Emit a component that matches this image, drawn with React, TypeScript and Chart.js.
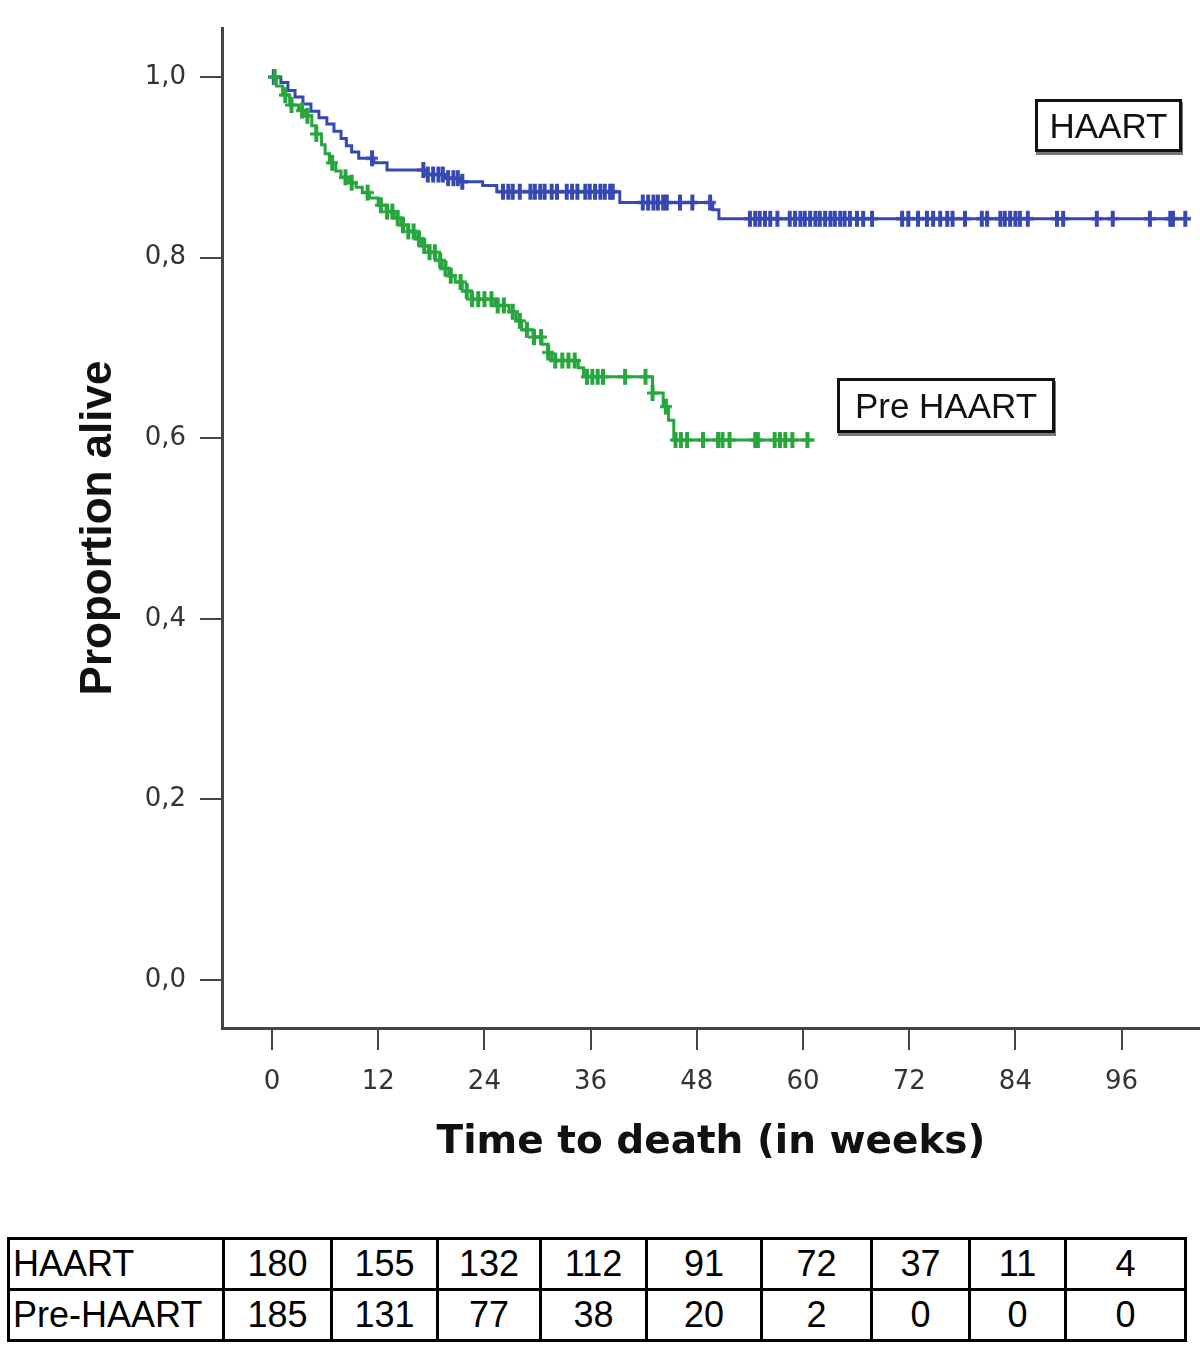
import React, { useEffect, useRef } from 'react';
import { Chart, registerables } from 'chart.js';

Chart.register(...registerables);

// ---------- data ----------
const xTickValues = [0, 12, 24, 36, 48, 60, 72, 84, 96];
const yTickValues = [0, 0.2, 0.4, 0.6, 0.8, 1.0];

// Kaplan-Meier step points (time in weeks, proportion alive after the drop)
const haartStepTimes = [0, 1.0, 1.8, 2.6, 3.5, 4.4, 5.3, 6.2, 7.0, 7.8, 8.4, 9.0, 9.8, 11.5, 13.0, 17.5, 19.5, 21.5, 23.8, 25.4, 39.3, 49.8, 50.5, 103.8];
const haartStepSurv = [1.0, 0.994, 0.985, 0.978, 0.97, 0.962, 0.955, 0.948, 0.94, 0.932, 0.924, 0.917, 0.91, 0.905, 0.897, 0.892, 0.888, 0.884, 0.88, 0.873, 0.861, 0.853, 0.843, 0.843];
const haartCensorTimes = [0.2, 11.3, 17.1, 17.6, 18.2, 18.8, 19.3, 19.9, 20.5, 21.0, 21.5, 26.1, 26.7, 27.2, 28.0, 29.2, 29.7, 30.3, 30.8, 31.6, 32.2, 33.3, 33.9, 34.5, 35.4, 35.9, 36.5, 37.1, 37.6, 38.2, 38.5, 41.9, 42.5, 43.1, 43.6, 44.2, 44.6, 46.1, 47.5, 49.5, 54.0, 54.6, 55.1, 55.7, 56.3, 57.1, 58.5, 59.1, 59.7, 60.2, 60.8, 61.4, 61.9, 62.5, 63.1, 63.6, 64.2, 64.7, 65.3, 66.1, 66.8, 67.8, 71.2, 71.9, 73.0, 74.0, 74.7, 75.5, 76.3, 76.9, 78.3, 80.2, 80.8, 82.3, 82.8, 83.4, 84.0, 84.5, 85.4, 88.7, 89.4, 93.2, 95.0, 99.2, 101.5, 101.8, 103.2];

const preStepTimes = [0, 0.5, 1.2, 2.0, 3.0, 3.8, 4.5, 5.0, 5.6, 6.0, 6.5, 7.2, 7.8, 8.7, 9.5, 10.2, 11.0, 12.0, 12.9, 13.8, 14.6, 15.4, 16.2, 17.0, 17.7, 18.5, 19.2, 20.0, 20.7, 21.5, 22.5, 25.2, 26.8, 27.6, 28.2, 29.5, 30.5, 31.2, 31.6, 34.6, 35.2, 43.0, 44.2, 44.8, 45.4, 61.3];
const preStepSurv = [1.0, 0.99, 0.98, 0.969, 0.963, 0.957, 0.946, 0.937, 0.925, 0.915, 0.905, 0.896, 0.889, 0.883, 0.878, 0.872, 0.866, 0.858, 0.851, 0.844, 0.836, 0.829, 0.821, 0.813, 0.806, 0.797, 0.788, 0.78, 0.773, 0.763, 0.754, 0.747, 0.74, 0.73, 0.72, 0.712, 0.704, 0.695, 0.686, 0.678, 0.668, 0.65, 0.635, 0.62, 0.598, 0.598];
const preCensorTimes = [0.3, 1.5, 2.2, 3.4, 4.0, 5.0, 6.8, 8.3, 9.0, 10.8, 12.3, 13.0, 13.6, 14.2, 14.8, 15.4, 16.0, 16.6, 17.2, 17.8, 18.4, 19.0, 19.6, 20.2, 21.3, 22.0, 22.6, 23.3, 24.0, 24.8, 25.5, 26.2, 27.2, 28.0, 28.8, 29.6, 30.4, 31.2, 32.0, 32.8, 33.5, 34.2, 35.6, 36.2, 36.8, 37.4, 39.9, 42.2, 43.0, 44.5, 45.6, 46.2, 46.9, 48.7, 50.4, 50.9, 51.7, 54.6, 54.9, 56.8, 57.4, 58.0, 58.8, 60.5];

const seriesLabels = ['HAART', 'Pre HAART'];
const tableRowLabels = ['HAART', 'Pre-HAART'];
const haartAtRisk = [180, 155, 132, 112, 91, 72, 37, 11, 4];
const preAtRisk = [185, 131, 77, 38, 20, 2, 0, 0, 0];

const xAxisTitle = 'Time to death (in weeks)';
const yAxisTitle = 'Proportion alive';

// ---------- styles ----------
const BLUE = '#3748b2';
const GREEN = '#27a63d';
const AXIS = '#444';

function survAt(times: number[], surv: number[], t: number): number {
  let v = surv[0];
  for (let i = 0; i < times.length; i++) {
    if (times[i] <= t) v = surv[i];
  }
  return v;
}

function makeCross(color: string): HTMLCanvasElement {
  const c = document.createElement('canvas');
  c.width = 12;
  c.height = 18;
  const ctx = c.getContext('2d')!;
  ctx.fillStyle = color;
  ctx.fillRect(4, 1, 4, 16);
  ctx.fillRect(0, 7.5, 12, 3);
  return c;
}

export default function App() {
  const canvasRef = useRef<HTMLCanvasElement | null>(null);

  useEffect(() => {
    if (!canvasRef.current) return;
    const blueCross = makeCross(BLUE);
    const greenCross = makeCross(GREEN);

    const preSteps = preStepTimes.map((t, i) => ({ x: t, y: preStepSurv[i] }));
    const haartSteps = haartStepTimes.map((t, i) => ({ x: t, y: haartStepSurv[i] }));
    const preCensor = preCensorTimes.map((t) => ({ x: t, y: survAt(preStepTimes, preStepSurv, t) }));
    const haartCensor = haartCensorTimes.map((t) => ({ x: t, y: survAt(haartStepTimes, haartStepSurv, t) }));

    const chart = new Chart(canvasRef.current, {
      type: 'scatter',
      data: {
        datasets: [
          {
            label: seriesLabels[1] + ' censored',
            data: preCensor,
            showLine: false,
            pointStyle: greenCross as any,
            pointRadius: 6,
          },
          {
            label: seriesLabels[1],
            data: preSteps,
            showLine: true,
            stepped: 'before',
            borderColor: GREEN,
            borderWidth: 3,
            pointRadius: 0,
            fill: false,
          },
          {
            label: seriesLabels[0] + ' censored',
            data: haartCensor,
            showLine: false,
            pointStyle: blueCross as any,
            pointRadius: 6,
          },
          {
            label: seriesLabels[0],
            data: haartSteps,
            showLine: true,
            stepped: 'before',
            borderColor: BLUE,
            borderWidth: 3,
            pointRadius: 0,
            fill: false,
          },
        ],
      },
      options: {
        animation: false,
        responsive: false,
        maintainAspectRatio: false,
        layout: { autoPadding: false, padding: { top: 28, right: 0, left: 0, bottom: 0 } },
        plugins: {
          legend: { display: false },
          tooltip: { enabled: false },
        },
        scales: {
          x: {
            type: 'linear',
            min: -5.65,
            max: 104.86,
            afterBuildTicks: (axis: any) => {
              axis.ticks = xTickValues.map((v) => ({ value: v }));
            },
            afterFit: (axis: any) => {
              axis.height = 192;
              axis.paddingLeft = 0;
              axis.paddingRight = 0;
            },
            ticks: {
              font: { family: 'DejaVu Sans', size: 26 },
              color: '#333',
              padding: 17,
              maxRotation: 0,
              callback: (v: any) => String(v),
            },
            grid: {
              drawOnChartArea: false,
              drawTicks: true,
              tickLength: 22,
              color: AXIS,
              lineWidth: 2,
            },
            border: { display: true, color: AXIS, width: 3 },
            title: {
              display: true,
              text: xAxisTitle,
              font: { family: 'DejaVu Sans', size: 39, weight: 'bold' },
              color: '#111',
              padding: { top: 0, bottom: 54 },
            },
          },
          y: {
            type: 'linear',
            min: -0.0532,
            max: 1.0543,
            afterBuildTicks: (axis: any) => {
              axis.ticks = yTickValues.map((v) => ({ value: v }));
            },
            afterFit: (axis: any) => {
              axis.width = 222;
              axis.paddingTop = 0;
              axis.paddingBottom = 0;
            },
            ticks: {
              font: { family: 'DejaVu Sans', size: 26 },
              color: '#333',
              padding: 14,
              callback: (v: any) => Number(v).toFixed(1).replace('.', ','),
            },
            grid: {
              drawOnChartArea: false,
              drawTicks: true,
              tickLength: 22,
              color: AXIS,
              lineWidth: 2,
            },
            border: { display: true, color: AXIS, width: 3 },
            title: {
              display: true,
              text: yAxisTitle,
              font: { family: 'Liberation Sans', size: 44, weight: 'bold' },
              color: '#111',
              padding: { top: 72, bottom: 0 },
            },
          },
        },
      } as any,
    });
    return () => chart.destroy();
  }, []);

  const boxStyle = (left: number, top: number, width: number, height: number): React.CSSProperties => ({
    position: 'absolute',
    left,
    top,
    width,
    height,
    boxSizing: 'border-box',
    border: '3px solid #111',
    boxShadow: '1px 3px 0 #777',
    background: '#fff',
    display: 'flex',
    alignItems: 'center',
    justifyContent: 'center',
    fontFamily: '"Liberation Sans", Arial, sans-serif',
    fontSize: 35,
    color: '#111',
  });

  const colWidths = [215, 108, 106, 103, 106, 115, 110, 98, 96, 120];
  const rows = [haartAtRisk, preAtRisk];
  const cell: React.CSSProperties = {
    border: '3px solid #000',
    padding: 0,
    height: 48,
    textAlign: 'center',
    fontFamily: '"Liberation Sans", Arial, sans-serif',
    fontSize: 36,
    color: '#000',
    lineHeight: '48px',
    overflow: 'hidden',
    whiteSpace: 'nowrap',
  };

  return (
    <div style={{ position: 'absolute', left: 0, top: 0, width: 1200, height: 1350, background: '#fff' }}>
      <canvas ref={canvasRef} width={1200} height={1220} style={{ position: 'absolute', left: 0, top: 0, width: 1200, height: 1220 }} />
      <div style={boxStyle(1035, 99, 147, 53)}>{seriesLabels[0]}</div>
      <div style={boxStyle(837, 378, 218, 55)}>{seriesLabels[1]}</div>
      <table
        style={{
          position: 'absolute',
          left: 7,
          top: 1237,
          width: 1177,
          borderCollapse: 'collapse',
          tableLayout: 'fixed',
        }}
      >
        <colgroup>
          {colWidths.map((w, i) => (
            <col key={i} style={{ width: w }} />
          ))}
        </colgroup>
        <tbody>
          {rows.map((r, ri) => (
            <tr key={ri}>
              <td style={{ ...cell, textAlign: 'left', paddingLeft: 3 }}>{tableRowLabels[ri]}</td>
              {r.map((v, ci) => (
                <td key={ci} style={cell}>{v}</td>
              ))}
            </tr>
          ))}
        </tbody>
      </table>
    </div>
  );
}
